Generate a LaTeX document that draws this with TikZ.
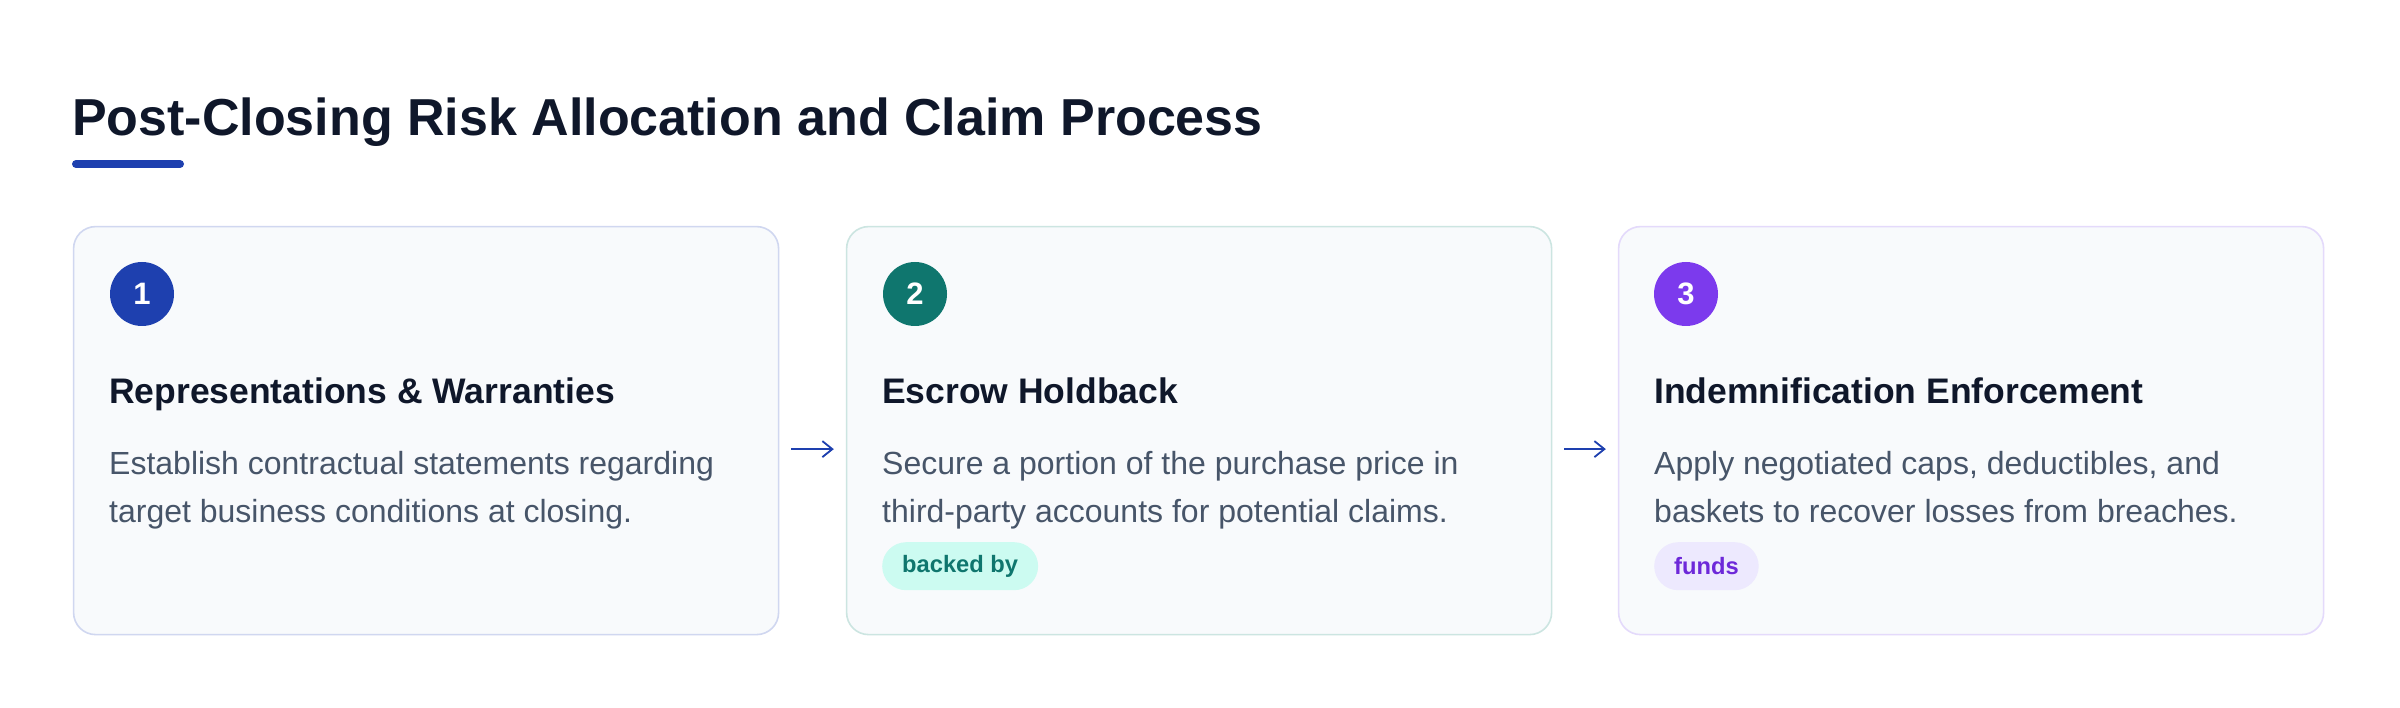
\documentclass[tikz,border=0pt]{standalone}
\usepackage{fontspec}
\setmainfont{Liberation Sans}
\usetikzlibrary{arrows.meta}
\definecolor{titlec}{HTML}{0F172A}
\definecolor{bodyc}{HTML}{475569}
\definecolor{cardbg}{HTML}{F8FAFC}
\definecolor{blueA}{HTML}{1E40AF}
\definecolor{tealA}{HTML}{0F766E}
\definecolor{violetA}{HTML}{7C3AED}
\definecolor{bordA}{HTML}{D0D7F0}
\definecolor{bordB}{HTML}{CCE5E1}
\definecolor{bordC}{HTML}{E4DAFB}
\definecolor{pillB}{HTML}{CCFBF1}
\definecolor{pillC}{HTML}{EDE9FE}
\definecolor{pillCt}{HTML}{6D28D9}
\tikzset{
  cardbox/.style={draw, line width=1.6pt, fill=cardbg, rounded corners=22pt,
    minimum width=705pt, minimum height=408pt, anchor=north west, inner sep=0pt},
  numdot/.style={circle, minimum size=64pt, inner sep=0pt, text=white,
    font=\fontsize{31}{31}\selectfont\bfseries},
  headtxt/.style={anchor=base west, inner sep=0pt, text=titlec,
    font=\fontsize{35.5}{40}\selectfont\bfseries},
  bodytxt/.style={anchor=base west, inner sep=0pt, text=bodyc,
    font=\fontsize{32}{40}\selectfont},
  pilltag/.style={anchor=north west, rounded corners=24pt, minimum height=48pt,
    inner xsep=20pt, inner ysep=0pt, font=\fontsize{23.7}{26}\selectfont\bfseries},
  flowarr/.style={draw=blueA, line width=1.8pt,
    -{Straight Barb[length=10pt,width=16pt,line width=1.8pt]}},
}
\begin{document}
\begin{tikzpicture}[x=1pt,y=-1pt]
\useasboundingbox[fill=white] (0,0) rectangle (2400,708);
% title
\node[anchor=base west, inner sep=0pt, text=titlec,
  font=\fontsize{52}{60}\selectfont\bfseries] (title) at (72,136)
  {Post-Closing Risk Allocation and Claim Process};
\draw[blueA, line width=8pt, line cap=round] (76,164) coordinate (ul1) -- (180,164) coordinate (ul2);
% cards
\node[cardbox, draw=bordA] (c1) at (72.8,225.8) {};
\node[cardbox, draw=bordB] (c2) at (845.8,225.8) {};
\node[cardbox, draw=bordC] (c3) at (1617.8,225.8) {};
% numbers
\node[numdot, fill=blueA] (n1) at (142,294) {1};
\node[numdot, fill=tealA] (n2) at (915,294) {2};
\node[numdot, fill=violetA] (n3) at (1686,294) {3};
% headings
\node[headtxt] (h1) at (109,403) {Representations \& Warranties};
\node[headtxt] (h2) at (882,403) {Escrow Holdback};
\node[headtxt] (h3) at (1654,403) {Indemnification Enforcement};
% bodies
\node[bodytxt] (b1a) at (109,474) {Establish contractual statements regarding};
\node[bodytxt] (b1b) at (109,522) {target business conditions at closing.};
\node[bodytxt] (b2a) at (882,474) {Secure a portion of the purchase price in};
\node[bodytxt] (b2b) at (882,522) {third-party accounts for potential claims.};
\node[bodytxt] (b3a) at (1654,474) {Apply negotiated caps, deductibles, and};
\node[bodytxt] (b3b) at (1654,522) {baskets to recover losses from breaches.};
% pills
\node[pilltag, fill=pillB, text=tealA] (p2) at (882,542) {backed by};
\node[pilltag, fill=pillC, text=pillCt] (p3) at (1654,542) {funds};
% connectors
\draw[flowarr] ([xshift=12pt,yshift=-18.5pt]c1.east) -- ([xshift=-12pt,yshift=-18.5pt]c2.west);
\draw[flowarr] ([xshift=12pt,yshift=-18.5pt]c2.east) -- ([xshift=-12pt,yshift=-18.5pt]c3.west);
\end{tikzpicture}
\end{document}
